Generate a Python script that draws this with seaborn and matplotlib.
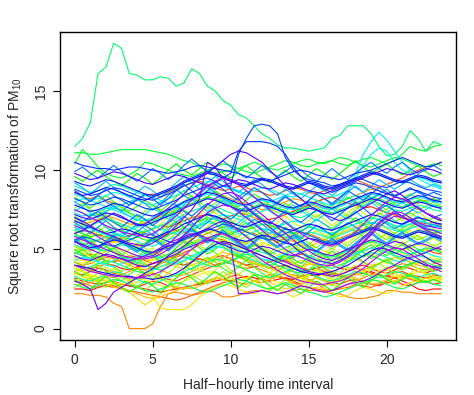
import colorsys

import matplotlib
matplotlib.use("Agg")
import matplotlib.pyplot as plt
import pandas as pd
import seaborn as sns

# half-hourly time points
time_points = [h / 2 for h in range(48)]

block_a = [
    [2.5,2.5,2.4,2.6,2.7,2.6,2.8,2.7, 2.6,2.5,2.4,2.3,2.4,2.5,2.6,2.7, 2.8,2.9,3.0,3.1,3.0,3.2,3.3,3.2, 3.1,3.0,3.1,3.2,3.1,3.3,3.4,3.3, 3.5,3.4,3.3,3.2,3.4,3.5,3.6,3.4, 3.3,3.2,3.0,2.8,2.5,2.4,2.5,2.5],
    [4.0,3.9,3.8,3.9,4.1,4.0,3.8,3.7, 3.9,4.0,4.1,4.3,4.2,4.1,4.0,4.2, 4.4,4.3,4.5,4.6,4.4,4.2,4.0,4.1, 4.0,3.8,3.9,4.0,3.8,3.6,3.7,3.8, 3.9,4.0,3.8,3.7,3.9,4.0,3.8,3.6, 3.5,3.7,3.9,3.8,3.6,3.5,3.7,3.8],
    [6.0,6.2,6.1,5.9,5.8,5.6,5.7,5.9, 6.0,6.1,6.3,6.5,6.4,6.6,6.8,7.0, 7.1,7.2,7.0,6.9,7.1,7.3,7.2,7.0, 6.8,6.9,7.0,7.2,7.4,7.6,7.8,8.0, 8.2,8.3,8.1,7.9,7.8,7.6,7.7,7.5, 7.3,7.2,7.0,6.9,6.8,6.6,6.7,6.5],
    [3.2,3.0,2.9,2.8,2.9,3.0,2.8,2.7, 2.6,2.8,3.0,2.9,2.7,2.6,2.5,2.7, 2.9,3.0,3.2,3.1,3.3,3.4,3.2,3.0, 2.9,3.1,3.3,3.2,3.0,2.8,3.0,3.2, 3.0,2.9,2.8,3.0,3.1,2.9,2.8,2.7, 2.9,3.0,2.8,2.7,2.9,3.0,2.8,2.9],
    [3.5,3.4,3.6,3.8,3.7,3.5,3.4,3.3, 3.2,3.4,3.5,3.3,3.1,3.0,3.2,3.4, 3.6,3.8,4.0,4.2,4.1,3.9,3.8,3.9, 4.0,4.2,4.4,4.3,4.1,3.9,3.7,3.8, 3.6,3.5,3.4,3.6,3.8,3.7,3.5,3.4, 3.3,3.5,3.6,3.4,3.3,3.2,3.4,3.3],
    [4.8,4.6,4.7,4.5,4.3,4.2,4.4,4.6, 4.5,4.3,4.1,4.2,4.4,4.6,4.8,5.0, 5.3,5.5,5.7,5.6,5.4,5.2,5.0,4.8, 4.6,4.4,4.2,4.3,4.5,4.7,4.6,4.4, 4.2,4.1,4.3,4.5,4.7,4.9,5.1,5.0, 4.8,4.6,4.5,4.7,4.9,5.0,4.8,4.7],
    [8.5,8.3,8.2,8.4,8.1,7.9,7.8,8.0, 8.2,8.4,8.5,8.3,8.6,8.8,9.0,9.2, 9.3,9.1,8.9,8.7,8.8,9.0,8.9,8.7, 8.6,8.4,8.5,8.7,8.9,8.8,8.6,8.5, 8.7,8.9,9.1,9.3,9.4,9.2,9.0,8.9, 9.1,9.3,9.5,9.8,10.0,10.2,10.3,10.5],
    [3.0,2.9,2.7,2.6,2.8,2.7,2.5,2.4, 2.3,2.2,2.1,2.0,1.9,1.8,1.9,2.1, 2.3,2.5,2.7,2.9,3.0,2.9,2.8,3.0, 3.2,3.4,3.3,3.1,2.9,2.7,2.6,2.5, 2.4,2.4,2.5,2.6,2.8,2.7,2.6,2.8, 3.0,3.2,3.3,3.1,3.0,3.2,3.3,3.2],
    [5.5,5.3,5.4,5.6,5.8,5.7,5.5,5.3, 5.2,5.4,5.6,5.8,6.0,6.2,6.1,5.9, 5.8,6.0,6.2,6.4,6.5,6.3,6.1,6.0, 5.8,5.6,5.5,5.7,5.9,6.1,6.0,5.8, 5.6,5.5,5.7,5.9,6.1,6.3,6.4,6.2, 6.0,5.8,5.7,5.9,6.1,6.0,5.8,5.7],
]

block_b = [
    [4.2,4.0,4.1,4.3,4.5,4.4,4.2,4.0, 3.8,3.7,3.9,4.1,4.3,4.5,4.7,4.6, 4.4,4.2,4.0,4.1,4.3,4.2,4.0,3.9, 3.7,3.5,3.3,3.2,3.4,3.3,3.1,2.9, 2.5,2.4,2.6,2.8,3.0,3.2,3.4,3.5, 3.7,3.9,4.1,4.0,3.8,3.7,3.9,4.0],
    [2.2,2.2,2.1,2.1,2.0,1.6,1.4,0.0, 0.0,0.0,0.3,1.4,2.2,2.3,2.2,2.1, 2.2,2.4,2.3,2.0,2.0,2.1,2.3,2.4, 2.4,2.3,2.2,2.3,2.4,2.5,2.4,2.4, 2.3,2.2,2.2,2.0,1.9,1.9,2.0,2.1, 2.4,2.4,2.3,2.3,2.2,2.2,2.2,2.2],
    [6.8,6.6,6.7,6.9,7.1,7.0,6.8,6.6, 6.5,6.7,6.9,7.1,7.3,7.5,7.7,7.9, 8.1,8.3,8.6,8.4,8.2,8.0,7.9,7.7, 7.5,7.6,7.8,8.0,8.2,8.1,7.9,7.7, 7.6,7.8,8.0,8.2,8.4,8.6,8.8,8.7, 8.5,8.3,8.2,8.0,7.9,8.1,8.2,8.0],
    [3.6,3.8,3.7,3.5,3.3,3.2,3.4,3.6, 3.8,4.0,3.9,3.7,3.5,3.3,3.4,3.6, 3.8,4.0,4.3,4.5,4.7,4.6,4.4,4.2, 4.0,3.8,3.6,3.5,3.7,3.9,4.1,4.0, 3.8,3.6,3.4,3.3,3.5,3.7,3.9,4.1, 4.3,4.5,4.4,4.2,4.0,3.9,4.1,4.2],
    [5.2,5.0,4.9,5.1,5.3,5.5,5.4,5.2, 5.0,4.8,4.7,4.9,5.1,5.3,5.6,5.8, 6.0,6.2,6.1,5.9,5.7,5.5,5.4,5.6, 5.8,6.0,5.9,5.7,5.5,5.3,5.2,5.4, 5.6,5.8,6.0,6.2,6.4,6.6,6.5,6.3, 6.1,5.9,5.8,6.0,6.2,6.1,5.9,5.8],
    [2.8,2.7,2.9,3.1,3.0,2.8,2.6,2.4, 2.2,2.0,1.9,2.0,2.2,2.4,2.6,2.5, 2.7,2.9,3.1,3.3,3.5,3.4,3.2,3.0, 2.9,3.1,3.3,3.5,3.4,3.2,3.0,2.8, 2.7,2.9,3.1,3.3,3.2,3.0,2.8,2.9, 3.1,3.3,3.4,3.2,3.0,2.9,3.1,3.2],
    [4.5,4.3,4.2,4.4,4.6,4.5,4.3,4.1, 4.0,4.2,4.4,4.3,4.1,3.9,3.8,4.0, 4.2,4.4,4.6,4.8,4.7,4.5,4.3,4.1, 4.0,3.8,3.7,3.9,4.1,4.3,4.2,4.0, 3.9,4.1,4.3,4.5,4.4,4.2,4.0,4.1, 4.3,4.5,4.4,4.2,4.1,4.3,4.4,4.2],
    [3.5,3.3,3.1,3.0,2.8,2.6,2.5,2.3, 1.9,1.5,1.8,2.2,2.4,2.6,2.5,2.7, 2.9,3.0,3.2,3.1,2.9,2.7,2.8,3.0, 3.1,2.9,2.7,2.5,2.6,2.8,3.0,3.2, 3.0,2.8,2.6,2.5,2.7,2.9,3.1,3.0, 2.8,3.0,3.2,3.3,3.1,3.0,3.2,3.1],
    [3.8,3.6,3.4,3.2,3.0,2.8,2.7,2.9, 2.6,2.4,2.0,1.3,1.2,1.2,1.2,1.5, 2.0,2.4,2.6,2.8,2.7,2.5,2.3,2.2, 2.4,2.6,2.5,2.3,2.0,2.2,2.5,2.6, 2.5,2.3,2.0,2.1,2.4,2.6,2.5,2.3, 2.2,2.4,2.7,2.9,3.0,3.2,3.1,3.0],
    [5.0,4.8,4.6,4.7,4.9,5.1,5.0,4.8, 4.6,4.4,4.3,4.5,4.7,4.9,5.2,5.4, 5.6,5.8,5.7,5.5,5.3,5.1,5.0,5.2, 5.4,5.3,5.1,4.9,4.8,5.0,5.2,5.1, 4.9,4.7,4.6,4.8,5.0,5.3,5.5,5.4, 5.2,5.0,4.9,5.1,5.3,5.2,5.0,4.9],
    [3.0,3.2,3.4,3.3,3.1,2.9,2.8,3.0, 3.2,3.1,2.9,2.7,2.6,2.8,3.0,3.2, 3.4,3.6,3.5,3.3,3.1,3.0,3.2,3.4, 3.3,3.1,2.9,2.8,3.0,3.2,3.4,3.5, 3.3,3.1,3.0,3.2,3.4,3.6,3.8,3.7, 3.5,3.3,3.2,3.4,3.6,3.5,3.3,3.2],
]

block_g = [
    [4.4,4.1,4.3,3.9,4.2,4.6,4.3,4.0, 3.7,3.9,4.4,4.8,4.5,4.2,4.6,5.0, 4.7,4.3,4.5,4.9,5.2,4.8,4.4,4.6, 4.3,3.9,4.2,4.5,4.1,3.8,4.0,4.4, 4.7,4.3,4.0,4.4,4.8,5.1,4.7,4.4, 4.1,4.5,4.8,4.4,4.1,4.3,4.6,4.3],
    [5.8,5.5,5.9,6.2,5.7,5.4,5.6,5.2, 4.9,5.3,5.7,5.4,5.9,6.3,6.0,5.6, 5.9,6.4,6.1,5.7,5.4,5.8,6.2,5.9, 5.5,5.2,5.6,6.0,5.7,5.3,5.0,5.4, 5.8,6.1,5.7,5.4,5.8,6.3,6.6,6.2, 5.8,5.5,5.9,6.2,5.8,5.5,5.7,5.4],
    [3.4,3.7,3.3,3.0,3.4,3.8,3.5,3.1, 2.9,3.3,3.6,3.2,2.9,3.2,3.7,4.1, 3.8,3.4,3.7,4.2,4.5,4.1,3.7,3.4, 3.1,3.5,3.9,3.6,3.2,2.9,3.3,3.7, 3.4,3.0,3.3,3.7,4.0,3.6,3.3,3.6, 3.9,3.5,3.2,3.5,3.8,3.4,3.1,3.3],
    [6.9,6.5,6.8,7.2,6.8,6.4,6.1,6.5, 6.9,6.6,6.2,6.6,7.1,7.5,7.1,6.8, 7.2,7.6,7.3,6.9,6.6,7.0,7.4,7.0, 6.6,6.3,6.7,7.1,6.7,6.4,6.8,7.2, 6.9,6.5,6.9,7.3,7.7,7.3,6.9,7.2, 7.5,7.1,6.8,7.1,7.4,7.0,6.7,6.9],
    [4.9,5.2,4.8,4.5,4.9,5.3,4.9,4.6, 4.3,4.7,5.1,4.8,4.4,4.8,5.3,5.7, 5.3,4.9,5.2,5.6,5.2,4.8,4.5,4.9, 5.3,4.9,4.6,4.9,5.3,5.0,4.6,4.3, 4.7,5.1,4.7,4.4,4.8,5.2,5.5,5.1, 4.8,5.2,5.5,5.1,4.8,5.0,5.3,5.0],
    [3.9,3.6,3.2,3.5,3.9,3.6,3.3,3.0, 3.3,3.7,3.4,3.1,3.5,3.9,4.3,4.0, 3.6,4.0,4.4,4.1,3.7,3.4,3.8,4.2, 3.9,3.5,3.2,3.6,3.3,3.0,3.4,3.8, 3.5,3.2,3.5,3.9,3.6,3.3,3.7,4.1, 3.8,3.5,3.8,4.1,3.8,3.6,3.8,3.6],
    [6.3,6.0,5.7,6.1,6.5,6.1,5.8,5.5, 5.8,6.2,5.9,5.5,5.9,6.4,6.8,6.4, 6.0,6.4,6.8,6.5,6.1,5.8,6.2,6.6, 6.3,5.9,5.6,6.0,5.7,5.4,5.8,6.2, 5.9,5.6,6.0,6.4,6.1,5.8,6.2,6.6, 6.3,6.0,6.3,6.6,6.3,6.1,6.3,6.1],
    [2.6,2.9,3.2,2.9,2.6,2.9,3.3,3.0, 2.7,2.4,2.8,3.2,2.9,2.6,3.0,3.4, 3.1,2.8,3.2,3.6,3.3,2.9,2.6,3.0, 2.7,2.4,2.7,3.1,2.8,2.5,2.9,3.3, 3.0,2.7,3.1,3.4,3.1,2.8,3.1,3.5, 3.2,2.9,3.2,3.5,3.2,2.9,3.1,2.9],
    [5.2,4.9,5.3,5.6,5.2,4.9,4.6,5.0, 5.4,5.1,4.7,5.1,5.6,6.0,5.6,5.3, 5.7,6.1,5.8,5.4,5.1,5.5,5.9,5.5, 5.1,4.8,5.2,5.6,5.2,4.9,5.3,5.7, 5.4,5.0,5.4,5.8,6.2,5.8,5.4,5.7, 6.0,5.6,5.3,5.6,5.9,5.5,5.2,5.4],
    [7.6,7.9,7.5,7.2,7.6,8.0,7.6,7.3, 7.0,7.4,7.8,7.5,7.1,7.5,8.0,8.4, 8.0,7.6,7.9,8.3,7.9,7.5,7.2,7.6, 8.0,7.6,7.3,7.6,8.0,7.7,7.3,7.0, 7.4,7.8,7.4,7.1,7.5,7.9,8.2,7.8, 7.5,7.9,8.2,7.8,7.5,7.7,8.0,7.7],
]

block_h = [
    [5.5,5.9,5.6,5.2,5.6,6.0,5.7,5.3, 5.0,5.4,5.8,5.5,5.1,5.5,5.9,6.3, 6.0,5.6,5.9,6.3,6.0,5.6,5.3,5.7, 6.1,5.7,5.4,5.7,6.1,5.8,5.4,5.1, 5.5,5.9,5.5,5.2,5.6,6.0,6.3,5.9, 5.6,6.0,6.3,5.9,5.6,5.8,6.1,5.8],
    [4.2,3.9,4.3,4.6,4.2,3.9,3.6,4.0, 4.4,4.1,3.7,4.1,4.6,5.0,4.6,4.3, 4.7,5.1,4.8,4.4,4.1,4.5,4.9,4.5, 4.1,3.8,4.2,4.6,4.2,3.9,4.3,4.7, 4.4,4.0,4.4,4.8,5.2,4.8,4.4,4.7, 5.0,4.6,4.3,4.6,4.9,4.5,4.2,4.4],
    [7.1,6.8,6.4,6.8,7.2,6.8,6.5,6.2, 6.5,6.9,6.6,6.2,6.6,7.1,7.5,7.1, 6.7,7.1,7.5,7.2,6.8,6.5,6.9,7.3, 7.0,6.6,6.3,6.7,6.4,6.1,6.5,6.9, 6.6,6.3,6.7,7.1,6.8,6.5,6.9,7.3, 7.0,6.7,7.0,7.3,7.0,6.8,7.0,6.8],
    [3.6,3.3,3.7,4.0,3.6,3.3,3.0,3.4, 3.8,3.5,3.1,3.5,4.0,4.4,4.0,3.7, 4.1,4.5,4.2,3.8,3.5,3.9,4.3,3.9, 3.5,3.2,3.6,4.0,3.6,3.3,3.7,4.1, 3.8,3.4,3.8,4.2,4.6,4.2,3.8,4.1, 4.4,4.0,3.7,4.0,4.3,3.9,3.6,3.8],
    [8.3,8.0,7.6,8.0,8.4,8.0,7.7,7.4, 7.7,8.1,7.8,7.4,7.8,8.3,8.7,8.3, 7.9,8.3,8.7,8.4,8.0,7.7,8.1,8.5, 8.2,7.8,7.5,7.9,7.6,7.3,7.7,8.1, 7.8,7.5,7.9,8.3,8.0,7.7,8.1,8.5, 8.2,7.9,8.2,8.5,8.2,8.0,8.2,8.0],
    [4.7,5.0,4.6,4.3,4.7,5.1,4.7,4.4, 4.1,4.5,4.9,4.6,4.2,4.6,5.1,5.5, 5.1,4.7,5.0,5.4,5.0,4.6,4.3,4.7, 5.1,4.7,4.4,4.7,5.1,4.8,4.4,4.1, 4.5,4.9,4.5,4.2,4.6,5.0,5.3,4.9, 4.6,5.0,5.3,4.9,4.6,4.8,5.1,4.8],
    [6.0,5.7,6.1,6.4,6.0,5.7,5.4,5.8, 6.2,5.9,5.5,5.9,6.4,6.8,6.4,6.1, 6.5,6.9,6.6,6.2,5.9,6.3,6.7,6.3, 5.9,5.6,6.0,6.4,6.0,5.7,6.1,6.5, 6.2,5.8,6.2,6.6,7.0,6.6,6.2,6.5, 6.8,6.4,6.1,6.4,6.7,6.3,6.0,6.2],
    [3.1,2.8,2.5,2.9,3.3,2.9,2.6,2.3, 2.6,3.0,2.7,2.3,2.7,3.2,3.6,3.2, 2.8,3.2,3.6,3.3,2.9,2.6,3.0,3.4, 3.1,2.7,2.4,2.8,2.5,2.2,2.6,3.0, 2.7,2.4,2.8,3.2,2.9,2.6,3.0,3.4, 3.1,2.8,3.1,3.4,3.1,2.9,3.1,2.9],
    [9.6,9.3,9.7,10.0,9.6,9.3,9.0,9.4, 9.8,9.5,9.1,9.5,10.0,10.4,10.0,9.7, 10.1,10.5,10.2,9.8,9.5,9.9,10.3,9.9, 9.5,9.2,9.6,10.0,9.6,9.3,9.7,10.1, 9.8,9.4,9.8,10.2,10.6,10.2,9.8,10.1, 10.4,10.0,9.7,10.0,10.3,9.9,9.6,9.8],
    [5.0,4.7,4.4,4.8,5.2,4.8,4.5,4.2, 4.5,4.9,4.6,4.2,4.6,5.1,5.5,5.1, 4.7,5.1,5.5,5.2,4.8,4.5,4.9,5.3, 5.0,4.6,4.3,4.7,4.4,4.1,4.5,4.9, 4.6,4.3,4.7,5.1,4.8,4.5,4.9,5.3, 5.0,4.7,5.0,5.3,5.0,4.8,5.0,4.8],
]

block_c = [
    [6.2,6.0,5.8,5.9,6.1,6.3,6.2,6.0, 5.8,5.6,5.5,5.7,5.9,6.1,6.4,6.6, 6.8,7.0,6.9,6.7,6.5,6.3,6.2,6.4, 6.6,6.5,6.3,6.1,6.0,6.2,6.4,6.3, 6.1,6.0,6.2,6.4,6.6,6.8,7.0,6.9, 6.7,6.5,6.4,6.6,6.8,6.7,6.5,6.4],
    [10.4,11.3,10.8,10.2,9.8,9.6,9.5,9.7, 10.0,10.5,10.4,10.2,10.0,9.8,9.7,9.6, 9.8,10.0,10.2,10.4,10.3,10.1,9.9,9.8, 10.0,10.2,10.4,10.6,10.5,10.3,10.2,10.4, 10.5,10.6,10.4,10.3,10.5,10.7,10.8,10.6, 10.4,10.6,11.0,11.5,11.3,11.2,11.5,11.6],
    [11.1,11.1,11.0,11.0,11.1,11.2,11.3,11.3, 11.3,11.3,11.2,11.1,11.0,10.8,10.6,10.5, 10.2,10.0,9.8,9.9,10.0,10.1,10.3,10.5, 10.3,10.1,10.0,10.2,10.4,10.6,10.7,10.5, 10.4,10.6,10.8,10.7,10.5,10.3,10.2,10.4, 10.6,10.8,10.7,10.5,10.3,10.2,10.4,10.3],
    [7.5,7.3,7.1,7.2,7.4,7.6,7.5,7.3, 7.1,6.9,6.8,7.0,7.2,7.4,7.7,7.9, 8.1,8.3,8.2,8.0,7.8,7.6,7.5,7.7, 7.9,7.8,7.6,7.4,7.3,7.5,7.7,7.6, 7.4,7.3,7.5,7.7,7.9,8.1,8.3,8.2, 8.0,7.8,7.7,7.9,8.1,8.0,7.8,7.7],
    [4.0,3.8,3.9,4.1,4.3,4.2,4.0,3.8, 3.6,3.5,3.7,3.9,4.1,4.3,4.5,4.4, 4.2,4.0,3.9,4.1,4.3,4.5,4.7,4.6, 4.4,4.2,4.0,3.8,3.6,3.5,3.7,3.9, 4.1,4.3,4.5,4.7,4.9,4.8,4.6,4.4, 4.2,4.0,3.9,4.1,4.3,4.2,4.0,3.9],
    [2.8,2.6,2.5,2.7,2.9,3.1,3.0,2.8, 2.6,2.4,2.3,2.5,2.7,2.9,2.8,2.6, 2.4,2.3,2.5,2.7,2.9,3.1,3.0,2.8, 2.6,2.5,2.7,2.9,2.7,2.5,2.3,2.2, 2.0,2.1,2.3,2.5,2.7,2.9,3.1,3.0, 2.8,2.6,2.5,2.7,2.9,3.0,2.8,2.7],
    [11.5,12.0,13.0,16.1,16.5,18.0,17.7,16.1, 16.0,15.7,15.7,15.9,15.8,15.3,15.5,16.4, 16.1,15.3,15.0,14.4,14.1,13.5,13.3,12.8, 12.3,12.0,11.6,11.4,11.4,11.3,11.2,11.3, 11.4,12.0,12.2,12.8,12.8,12.8,12.3,11.5, 10.9,11.0,11.5,12.5,12.0,11.2,11.8,11.6],
    [5.6,5.4,5.2,5.0,4.9,5.1,5.3,5.2, 5.0,4.8,4.6,4.5,4.7,4.9,5.1,5.3, 5.5,5.7,5.9,5.8,5.6,5.4,5.2,5.0, 4.8,4.7,4.9,5.1,5.3,5.2,5.0,4.8, 4.6,4.5,4.7,4.9,5.1,5.3,5.5,5.4, 5.2,5.0,4.8,4.7,4.9,5.1,5.0,4.8],
    [3.3,3.1,3.0,3.2,3.4,3.6,3.5,3.3, 3.1,2.9,2.8,3.0,3.2,3.4,3.6,3.8, 4.0,4.2,4.4,4.3,4.1,3.9,3.7,3.5, 3.3,3.2,3.4,3.6,3.8,3.7,3.5,3.3, 3.1,3.0,3.2,3.4,3.6,3.5,3.3,3.2, 3.4,3.6,3.5,3.3,3.2,3.4,3.5,3.3],
    [6.6,6.4,6.5,6.7,6.9,6.8,6.6,6.4, 6.2,6.1,6.3,6.5,6.7,6.9,7.2,7.4, 7.6,7.8,7.7,7.5,7.3,7.1,7.0,7.2, 7.4,7.6,7.5,7.3,7.1,7.0,7.2,7.4, 7.6,7.8,8.0,8.2,8.4,8.3,8.1,7.9, 7.7,7.5,7.4,7.6,7.8,7.7,7.5,7.4],
]

block_d = [
    [4.8,4.6,4.4,4.2,4.1,4.3,4.5,4.4, 4.2,4.0,3.8,3.7,3.9,4.1,4.3,4.6, 4.8,5.0,5.2,5.1,4.9,4.7,4.5,4.3, 4.1,4.0,4.2,4.4,4.6,4.5,4.3,4.1, 3.9,3.8,4.0,4.2,4.4,4.6,4.8,4.7, 4.5,4.3,4.2,4.4,4.6,4.5,4.3,4.2],
    [9.0,8.8,8.6,8.7,8.9,9.1,9.0,8.8, 8.6,8.4,8.3,8.5,8.7,8.9,9.2,9.4, 9.6,9.8,9.7,9.5,9.3,9.1,9.0,9.2, 9.4,9.3,9.1,8.9,8.8,9.0,9.2,9.1, 8.9,8.8,9.0,9.2,9.4,9.6,9.8,9.7, 9.5,9.3,9.2,9.4,9.6,9.5,9.3,9.2],
    [5.9,5.7,5.5,5.6,5.8,6.0,5.9,5.7, 5.5,5.3,5.2,5.4,5.6,5.8,6.1,6.3, 6.5,6.7,6.6,6.4,6.2,6.0,5.9,6.1, 6.3,6.2,6.0,5.8,5.7,5.9,6.1,6.0, 5.8,5.7,5.9,6.1,6.3,6.5,6.7,6.6, 6.4,6.2,6.1,6.3,6.5,6.4,6.2,6.1],
    [7.0,6.8,6.9,7.1,7.3,7.2,7.0,6.8, 6.6,6.5,6.7,6.9,7.1,7.3,7.6,7.8, 8.0,8.2,8.1,7.9,7.7,7.5,7.4,7.6, 7.8,7.7,7.5,7.3,7.2,7.4,7.6,7.5, 7.3,7.2,7.4,7.6,7.8,8.0,8.2,8.1, 7.9,7.7,7.6,7.8,8.0,7.9,7.7,7.6],
    [5.3,5.1,5.0,5.2,5.4,5.6,5.5,5.3, 5.1,4.9,4.8,5.0,5.2,5.4,5.7,5.9, 6.1,6.3,6.2,6.0,5.8,5.6,5.5,5.7, 5.9,5.8,5.6,5.4,5.3,5.5,5.7,5.6, 5.4,5.3,5.5,5.7,5.9,6.1,6.3,6.2, 6.0,5.8,5.7,5.9,6.1,6.0,5.8,5.7],
    [8.5,8.3,8.1,8.2,8.4,8.6,8.5,8.3, 8.1,7.9,7.8,8.0,8.2,8.4,8.7,8.9, 9.1,9.3,9.2,9.0,8.8,8.6,8.5,8.7, 8.9,8.8,8.6,8.4,8.3,8.5,8.7,8.6, 8.4,8.3,8.5,8.7,9.5,10.3,11.0,11.4, 11.2,10.5,10.0,9.8,9.6,9.4,9.2,9.0],
    [6.2,6.4,6.3,6.1,5.9,5.8,6.0,6.2, 6.4,6.6,6.5,6.3,6.1,6.0,6.2,6.4, 6.6,6.8,7.0,7.2,7.1,6.9,6.7,6.5, 6.3,6.2,6.4,6.6,6.8,6.7,6.5,6.3, 6.1,6.0,6.2,6.4,6.6,6.8,7.0,6.9, 6.7,6.5,6.4,6.6,6.8,6.7,6.5,6.4],
    [4.3,4.5,4.4,4.2,4.0,3.9,4.1,4.3, 4.5,4.7,4.6,4.4,4.2,4.1,4.3,4.5, 4.7,4.9,5.1,5.3,5.2,5.0,4.8,4.6, 4.4,4.3,4.5,4.7,4.9,4.8,4.6,4.4, 4.2,4.1,4.3,4.5,4.7,4.9,5.1,5.0, 4.8,4.6,4.5,4.7,4.9,4.8,4.6,4.5],
    [8.0,8.2,8.1,7.9,7.7,7.6,7.8,8.0, 8.2,8.4,8.3,8.1,7.9,7.8,8.0,8.2, 8.4,8.6,8.8,9.0,8.9,8.7,8.5,8.3, 8.1,8.0,8.2,8.4,8.6,8.5,8.3,8.1, 7.9,7.8,8.0,8.5,9.8,11.0,11.8,12.4, 11.9,11.2,10.5,10.0,9.5,9.2,9.0,8.8],
    [7.3,7.1,7.2,7.4,7.6,7.5,7.3,7.1, 6.9,6.8,7.0,7.2,7.4,7.6,7.9,8.1, 8.3,8.5,8.4,8.2,8.0,7.8,7.7,7.9, 8.1,8.0,7.8,7.6,7.5,7.7,7.9,7.8, 7.6,7.5,7.7,7.9,8.1,8.3,8.5,8.4, 8.2,8.0,7.9,8.1,8.3,8.2,8.0,7.9],
]

block_i = [
    [7.4,7.7,7.3,7.0,7.4,7.8,7.4,7.1, 6.8,7.2,7.6,7.3,6.9,7.3,7.8,8.2, 7.8,7.4,7.7,8.1,7.7,7.3,7.0,7.4, 7.8,7.4,7.1,7.4,7.8,7.5,7.1,6.8, 7.2,7.6,7.2,6.9,7.3,7.7,8.0,7.6, 7.3,7.7,8.0,7.6,7.3,7.5,7.8,7.5],
    [6.4,6.1,6.5,6.8,6.4,6.1,5.8,6.2, 6.6,6.3,5.9,6.3,6.8,7.2,6.8,6.5, 6.9,7.3,7.0,6.6,6.3,6.7,7.1,6.7, 6.3,6.0,6.4,6.8,6.4,6.1,6.5,6.9, 6.6,6.2,6.6,7.0,7.4,7.0,6.6,6.9, 7.2,6.8,6.5,6.8,7.1,6.7,6.4,6.6],
    [9.2,8.9,8.5,8.9,9.3,8.9,8.6,8.3, 8.6,9.0,8.7,8.3,8.7,9.2,9.6,9.2, 8.8,9.2,9.6,9.3,8.9,8.6,9.0,9.4, 9.1,8.7,8.4,8.8,8.5,8.2,8.6,9.0, 8.7,8.4,8.8,9.2,8.9,8.6,9.0,9.4, 9.1,8.8,9.1,9.4,9.1,8.9,9.1,8.9],
    [5.4,5.7,5.3,5.0,5.4,5.8,5.4,5.1, 4.8,5.2,5.6,5.3,4.9,5.3,5.8,6.2, 5.8,5.4,5.7,6.1,5.7,5.3,5.0,5.4, 5.8,5.4,5.1,5.4,5.8,5.5,5.1,4.8, 5.2,5.6,5.2,4.9,5.3,5.7,6.0,5.6, 5.3,5.7,6.0,5.6,5.3,5.5,5.8,5.5],
    [8.0,7.7,8.1,8.4,8.0,7.7,7.4,7.8, 8.2,7.9,7.5,7.9,8.4,8.8,8.4,8.1, 8.5,8.9,8.6,8.2,7.9,8.3,8.7,8.3, 7.9,7.6,8.0,8.4,8.0,7.7,8.1,8.5, 8.2,7.8,8.2,8.6,9.0,8.6,8.2,8.5, 8.8,8.4,8.1,8.4,8.7,8.3,8.0,8.2],
    [6.7,6.4,6.0,6.4,6.8,6.4,6.1,5.8, 6.1,6.5,6.2,5.8,6.2,6.7,7.1,6.7, 6.3,6.7,7.1,6.8,6.4,6.1,6.5,6.9, 6.6,6.2,5.9,6.3,6.0,5.7,6.1,6.5, 6.2,5.9,6.3,6.7,6.4,6.1,6.5,6.9, 6.6,6.3,6.6,6.9,6.6,6.4,6.6,6.4],
    [5.5,5.8,5.4,5.1,5.5,5.9,5.5,5.2, 4.9,5.3,5.7,5.4,5.0,5.4,5.9,6.3, 5.9,5.5,5.8,6.2,5.8,5.4,5.1,5.5, 5.9,5.5,5.2,5.5,5.9,5.6,5.2,4.9, 5.3,5.7,5.3,5.0,5.4,5.8,6.1,5.7, 5.4,5.8,6.1,5.7,5.4,5.6,5.9,5.6],
    [9.9,10.2,9.8,9.5,9.9,10.3,9.9,9.6, 9.3,9.7,10.1,9.8,9.4,9.8,10.3,10.7, 10.3,9.9,10.2,10.6,10.2,9.8,9.5,9.9, 10.3,9.9,9.6,9.9,10.3,10.0,9.6,9.3, 9.7,10.1,9.7,9.4,9.8,10.2,10.5,10.1, 9.8,10.2,10.5,10.1,9.8,10.0,10.3,10.0],
    [7.0,6.7,7.1,7.4,7.0,6.7,6.4,6.8, 7.2,6.9,6.5,6.9,7.4,7.8,7.4,7.1, 7.5,7.9,7.6,7.2,6.9,7.3,7.7,7.3, 6.9,6.6,7.0,7.4,7.0,6.7,7.1,7.5, 7.2,6.8,7.2,7.6,8.0,7.6,7.2,7.5, 7.8,7.4,7.1,7.4,7.7,7.3,7.0,7.2],
    [8.7,8.4,8.0,8.4,8.8,8.4,8.1,7.8, 8.1,8.5,8.2,7.8,8.2,8.7,9.1,8.7, 8.3,8.7,9.1,8.8,8.4,8.1,8.5,8.9, 8.6,8.2,7.9,8.3,8.0,7.7,8.1,8.5, 8.2,7.9,8.3,8.7,8.4,8.1,8.5,8.9, 8.6,8.3,8.6,8.9,8.6,8.4,8.6,8.4],
]

block_e = [
    [5.6,5.8,5.7,5.5,5.3,5.2,5.4,5.6, 5.8,6.0,5.9,5.7,5.5,5.4,5.6,5.8, 6.0,6.2,6.4,6.6,6.5,6.3,6.1,5.9, 5.7,5.6,5.8,6.0,6.2,6.1,5.9,5.7, 5.5,5.4,5.6,5.8,6.0,6.2,6.4,6.3, 6.1,5.9,5.8,6.0,6.2,6.1,5.9,5.8],
    [8.8,8.6,8.4,8.5,8.7,8.9,8.8,8.6, 8.4,8.2,8.1,8.3,8.5,8.7,9.0,9.2, 9.4,9.5,9.3,9.0,9.0,11.0,12.0,12.8, 12.9,12.8,12.3,10.8,10.0,9.6,9.4,9.3, 9.2,9.0,9.1,9.3,9.5,9.4,9.2,9.0, 8.9,9.1,9.3,9.2,9.0,8.8,8.7,8.6],
    [8.2,8.0,7.8,7.9,8.1,8.3,8.2,8.0, 7.8,7.6,7.5,7.7,7.9,8.1,8.4,8.6, 8.8,9.0,9.2,9.5,9.8,11.2,11.8,11.8, 11.8,11.7,11.5,11.0,10.2,9.6,9.2,9.0, 8.8,8.6,8.8,9.0,9.2,9.1,8.9,8.7, 8.5,8.4,8.6,8.8,8.7,8.5,8.3,8.2],
    [10.5,10.3,10.2,10.1,10.1,10.0,10.1,10.2, 10.2,10.1,10.0,9.9,9.8,9.9,10.0,10.2, 10.3,10.2,10.1,10.0,9.9,9.8,9.6,9.5, 9.4,9.3,9.5,9.7,9.9,10.0,9.9,9.7, 9.6,9.5,9.4,9.6,9.8,9.9,10.0,10.2, 10.4,10.6,10.8,10.6,10.4,10.2,10.3,10.5],
    [9.3,9.1,9.0,9.2,9.4,9.3,9.1,8.9, 8.7,8.5,8.4,8.6,8.8,9.0,9.3,9.5, 9.7,9.9,9.8,9.6,9.4,9.2,9.1,9.3, 9.5,9.4,9.2,9.0,8.9,9.1,9.3,9.2, 9.0,8.9,9.1,9.3,9.5,9.7,9.9,9.8, 9.6,9.4,9.3,9.5,9.7,9.6,9.4,9.3],
    [7.8,7.6,7.4,7.5,7.7,7.9,7.8,7.6, 7.4,7.2,7.1,7.3,7.5,7.7,8.0,8.2, 8.4,8.6,8.5,8.3,8.1,7.9,7.8,8.0, 8.2,8.1,7.9,7.7,7.6,7.8,8.0,7.9, 7.7,7.6,7.8,8.0,8.2,8.4,8.6,8.5, 8.3,8.1,8.0,8.2,8.4,8.3,8.1,8.0],
    [6.8,6.6,6.4,6.2,6.0,6.1,6.3,6.2, 6.0,5.8,5.7,5.9,6.1,6.3,6.6,6.8, 7.0,7.2,7.1,6.9,6.7,6.5,6.4,6.6, 6.8,6.7,6.5,6.3,6.2,6.4,6.6,6.5, 6.3,6.2,6.4,6.6,6.8,7.0,7.2,7.1, 6.9,6.7,6.6,6.8,7.0,6.9,6.7,6.6],
    [8.6,8.4,8.5,8.7,8.9,8.8,8.6,8.4, 8.2,8.1,8.3,8.5,8.7,8.9,9.2,9.4, 9.6,9.8,9.7,9.5,9.3,9.1,9.0,9.2, 9.4,9.3,9.1,8.9,8.8,9.0,9.2,9.1, 8.9,8.8,9.0,9.2,9.4,9.6,9.8,9.7, 9.5,9.3,9.2,9.4,9.6,9.5,9.3,9.2],
    [5.5,5.3,5.1,5.2,5.4,5.6,5.5,5.3, 5.1,4.9,4.8,5.0,5.2,5.4,5.7,5.9, 6.1,6.3,6.2,6.0,5.8,5.6,5.5,5.7, 5.9,5.8,5.6,5.4,5.3,5.5,5.7,5.6, 5.4,5.3,5.5,5.7,5.9,6.1,6.3,6.2, 6.0,5.8,5.7,5.9,6.1,6.0,5.8,5.7],
    [4.0,3.9,3.8,3.6,3.5,3.4,3.3,3.3, 3.2,3.2,3.1,3.2,3.3,3.5,3.8,4.2, 4.6,5.0,5.3,5.5,5.4,5.2,5.0,4.8, 4.6,4.4,4.2,4.0,3.8,3.6,3.5,3.4, 3.5,3.6,3.8,4.0,4.3,4.6,4.9,5.1, 5.0,4.8,4.6,4.4,4.2,4.0,3.9,3.8],
]

block_f = [
    [7.2,7.0,6.9,7.1,7.3,7.2,7.0,6.8, 6.6,6.5,6.7,6.9,7.1,7.3,7.6,7.8, 8.0,8.2,8.1,7.9,7.7,7.5,7.4,7.6, 7.8,7.7,7.5,7.3,7.2,7.4,7.6,7.5, 7.3,7.2,7.4,7.6,7.8,8.0,8.2,8.1, 7.9,7.7,7.6,7.8,8.0,7.9,7.7,7.6],
    [9.8,9.6,9.4,9.5,9.7,9.9,9.8,9.6, 9.4,9.2,9.1,9.3,9.5,9.7,9.6,9.4, 9.2,9.0,8.8,9.0,9.2,9.4,9.3,9.1, 8.9,8.8,9.0,9.2,9.1,8.9,8.7,8.6, 8.5,8.7,8.9,9.1,9.3,9.5,9.7,9.9, 10.1,10.0,9.8,9.7,9.9,10.1,10.0,9.8],
    [6.0,6.2,6.5,6.8,7.0,7.3,7.1,6.8, 6.5,6.6,6.9,7.2,7.6,8.0,8.5,9.0, 9.5,9.8,10.2,10.6,11.0,11.2,11.1,10.8, 10.5,10.0,9.5,9.0,8.6,8.2,7.8,7.5, 7.2,7.0,6.8,7.0,7.3,7.6,7.9,8.2, 8.5,8.7,8.4,8.0,7.6,7.3,7.0,6.8],
    [4.6,4.4,4.3,4.5,4.7,4.6,4.4,4.2, 4.0,3.9,4.1,4.3,4.5,4.7,5.0,5.2, 5.4,5.6,5.5,5.3,5.1,4.9,4.8,5.0, 5.2,5.1,4.9,4.7,4.6,4.8,5.0,4.9, 4.7,4.6,4.8,5.0,5.2,5.4,5.6,5.5, 5.3,5.1,5.0,5.2,5.4,5.3,5.1,5.0],
    [3.0,2.8,2.5,1.2,1.6,2.3,2.6,2.9, 3.2,3.5,3.8,4.2,4.6,4.9,5.2,5.6, 6.0,6.3,6.6,6.8,6.6,6.2,5.8,5.4, 5.0,4.7,4.4,4.2,4.0,3.8,3.6,3.5, 3.4,3.3,3.4,3.6,3.8,4.2,4.6,5.0, 5.3,5.5,5.4,5.1,4.8,4.5,4.2,4.0],
    [7.0,6.8,6.5,6.2,6.0,5.8,5.6,5.4, 5.3,5.2,5.4,5.7,6.0,6.5,7.0,7.5, 8.2,10.5,10.2,9.5,8.8,8.2,7.6,7.2, 6.8,6.4,6.0,5.6,5.2,4.8,4.5,4.3, 4.2,4.1,4.3,4.6,5.0,5.5,6.0,6.6, 7.0,7.3,7.1,6.8,6.5,6.3,6.2,6.0],
    [5.5,5.2,5.0,4.8,4.6,4.5,4.4,4.3, 4.4,4.6,4.8,5.1,5.4,5.6,5.8,6.0, 5.9,5.7,5.5,5.4,5.3,2.2,2.2,2.3, 2.4,2.3,2.2,2.3,2.5,2.7,2.6,2.4, 2.3,2.4,2.6,2.8,2.9,3.0,3.2,3.5, 3.8,4.0,4.3,4.5,4.6,4.8,5.0,5.2],
    [6.5,6.3,6.1,5.8,5.5,5.2,5.0,4.8, 4.6,4.5,4.6,4.9,5.3,5.8,6.3,6.8, 7.3,7.8,8.2,8.5,8.6,8.4,8.0,7.6, 7.2,6.8,6.4,6.0,5.6,5.2,4.9,4.6, 4.4,4.3,4.5,4.8,5.2,5.7,6.2,6.7, 7.1,7.4,7.3,7.0,6.7,6.5,6.4,6.3],
    [5.8,5.6,5.4,5.2,5.0,4.8,4.6,4.5, 4.4,4.4,4.5,4.7,5.0,5.4,5.9,6.4, 6.9,7.3,7.6,7.8,7.7,7.4,7.0,6.6, 6.2,5.8,5.4,5.0,4.7,4.5,4.3,4.1, 4.0,4.0,4.2,4.5,4.9,5.4,5.9,6.4, 6.8,7.1,7.0,6.8,6.5,6.2,6.0,5.8],
    [7.5,7.3,7.0,6.8,6.5,6.3,6.1,6.0, 5.9,5.8,6.0,6.3,6.7,7.1,7.6,8.1, 8.6,9.0,9.3,9.5,9.4,9.1,8.7,8.3, 7.9,7.5,7.1,6.7,6.3,6.0,5.7,5.5, 5.3,5.2,5.4,5.7,6.1,6.6,7.1,7.6, 8.0,8.3,8.2,7.9,7.6,7.3,7.1,6.9],
    [4.0,3.8,3.6,3.5,3.4,3.3,3.3,3.2, 3.2,3.3,3.4,3.6,3.9,4.2,4.6,5.0, 5.4,5.7,5.9,6.0,5.8,5.5,5.1,4.7, 4.3,4.0,3.7,3.4,3.2,3.0,2.9,2.8, 2.8,2.9,3.0,3.2,3.5,3.8,4.2,4.6, 4.9,5.1,5.0,4.7,4.4,4.1,3.8,3.6],
]

curves = (block_a + block_b + block_g + block_h + block_c + block_d
          + block_i + block_e + block_f)

frames = []
for i, values in enumerate(curves):
    frames.append(pd.DataFrame({"time": time_points, "pm": values,
                                "curve": "c%02d" % i}))
df = pd.concat(frames, ignore_index=True)

# rainbow colours, red -> violet, like R's rainbow()
names = ["c%02d" % i for i in range(len(curves))]
n = len(names)
palette = {name: colorsys.hsv_to_rgb(0.79 * k / (n - 1), 1, 1)
           for k, name in enumerate(names)}

sns.set_style("white")
plt.rcParams["font.family"] = ["Liberation Sans", "DejaVu Sans"]
plt.rcParams["mathtext.fontset"] = "custom"
plt.rcParams["mathtext.rm"] = "Liberation Sans"

fig = plt.figure(figsize=(4.74, 3.95), dpi=100)
ax = fig.add_axes([60 / 474, 55 / 395, 396 / 474, 308 / 395])

sns.lineplot(data=df, x="time", y="pm", hue="curve", hue_order=names,
             palette=palette, estimator=None, sort=False, legend=False,
             linewidth=0.8, ax=ax)

ax.set_xlim(-0.94, 24.44)
ax.set_ylim(-0.72, 18.72)
ax.set_xticks([0, 5, 10, 15, 20])
ax.set_yticks([0, 5, 10, 15])
ax.tick_params(direction="out", length=5, width=0.8, labelsize=10,
               color="black", pad=4, left=True, bottom=True)
for lab in ax.get_yticklabels():
    lab.set_rotation(90)
    lab.set_va("center")
for s in ax.spines.values():
    s.set_visible(True)
    s.set_color("black")
    s.set_linewidth(1.0)

ax.set_xlabel("Half\u2212hourly time interval", fontsize=10, labelpad=8)
ax.set_ylabel("Square root transformation of PM$_{\\mathrm{10}}$",
              fontsize=10, labelpad=7)

fig.savefig("out.png", dpi=100)
